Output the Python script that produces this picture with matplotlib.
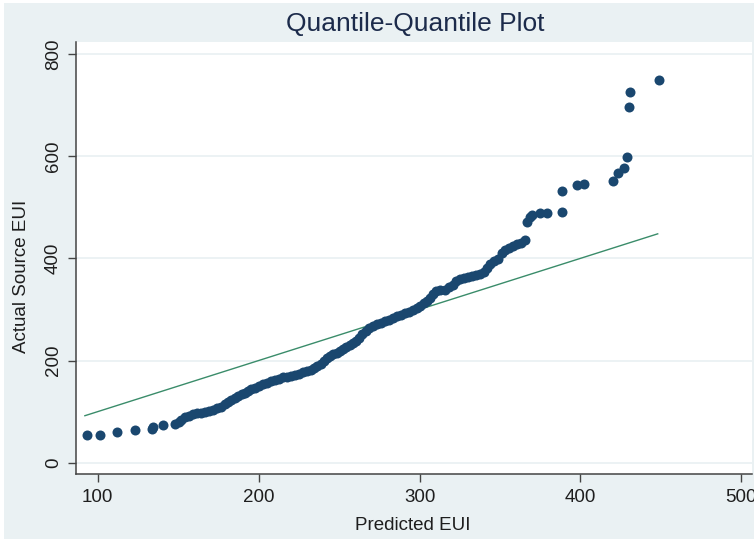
import matplotlib
matplotlib.use("Agg")
import matplotlib.pyplot as plt
from matplotlib.patches import Rectangle

plt.rcParams['font.family'] = ['Liberation Sans', 'DejaVu Sans']

# quantiles (predicted vs actual source EUI)
pred_eui = [93.5, 101.4, 112.2, 123.4, 133.6, 134.2, 140.4, 148.0,
            150.5, 152.0, 154.0, 156.5, 159.0, 161.5, 164.0, 166.5, 169.0, 171.5,
            174.0, 176.5, 179.0, 181.0, 183.0, 185.0, 187.0, 189.5, 191.5, 193.5,
            195.5, 197.5, 200.0, 202.5, 205.0, 207.5, 210.0, 212.5, 215.0, 217.5,
            220.0, 222.5, 225.0, 227.5, 230.0, 232.5, 234.5, 236.5, 238.5, 240.5,
            242.5, 244.5, 246.5, 248.5, 250.5, 252.5, 254.5, 256.5, 258.5, 260.5,
            262.5, 264.5, 266.5, 268.5, 271.0, 273.5, 276.0, 278.5, 281.0, 283.5,
            286.0, 288.5, 291.0, 293.5, 296.0, 298.5, 300.5, 302.5, 304.5, 306.5,
            308.5, 310.5, 313.0, 315.5, 318.0, 320.5, 322.5, 325.0, 327.5, 330.0,
            332.5, 335.0, 337.5, 340.0, 342.0, 344.0, 346.0, 348.5, 351.0, 353.0,
            355.5, 358.0, 360.5, 363.0, 365.5, 366.8, 368.5, 370.0, 374.9, 379.5,
            388.4, 388.4, 397.7, 402.5, 420.1, 423.6, 427.1, 429.2, 430.0, 430.9,
            448.5]
actual_eui = [54, 54.5, 61, 64, 66, 70, 74, 76,
              79, 84, 89, 92, 95, 97, 98, 100, 102, 104,
              107, 110, 114, 118, 122, 127, 130, 134, 137, 141,
              144, 147, 151, 154, 157, 160, 162, 164, 167, 168,
              170, 172, 174, 177, 179, 182, 185, 189, 194, 199,
              204, 208, 212, 215, 219, 222, 226, 230, 235, 239,
              245, 251, 258, 264, 267, 271, 274, 277, 280, 283,
              287, 290, 293, 295, 299, 303, 307, 312, 317, 322,
              330, 337, 338, 339, 343, 348, 355, 359, 361, 363,
              365, 367, 370, 374, 381, 388, 394, 399, 410, 416,
              420, 424, 428, 431, 436, 472, 481, 484, 488, 489.5,
              491.4, 531.9, 543.6, 545.6, 552.1, 567.8, 576.2, 599.1, 696.9, 725,
              749.1]

ref_x = [92, 448]
ref_y = [92, 448]

x_ticks = [100, 200, 300, 400, 500]
y_ticks = [0, 200, 400, 600, 800]

bg = '#EAF1F3'
navy = '#1A476F'
text_col = '#1E1E1E'

fig = plt.figure(figsize=(7.54, 5.39), dpi=100)
fig.patch.set_facecolor('white')
fig.patches.append(Rectangle((4 / 754, 0), 1, 1 - 3 / 539, transform=fig.transFigure,
                             facecolor=bg, edgecolor='none', zorder=-10))

ax = fig.add_axes([75.7 / 754, 65 / 539, (752 - 75.7) / 754, (474 - 42.3) / 539])
ax.set_facecolor('white')

ax.plot(pred_eui, actual_eui, linestyle='none', marker='o', markersize=7.2,
        color=navy, markeredgewidth=0, zorder=3)
ax.plot(ref_x, ref_y, color='#3A8C6A', linewidth=1.0, zorder=2)

ax.set_xlim(86.3, 506.6)
ax.set_ylim(-22.1, 822.9)
ax.set_xticks(x_ticks)
ax.set_yticks(y_ticks)
ax.set_xticklabels([str(v) for v in x_ticks])
ax.set_yticklabels([str(v) for v in y_ticks], rotation=90, va='center')

ax.grid(axis='y', color=bg, linewidth=1.3, zorder=0)
ax.grid(axis='x', visible=False)
ax.set_axisbelow(True)

for side in ['top', 'right']:
    ax.spines[side].set_visible(False)
for side in ['left', 'bottom']:
    ax.spines[side].set_color('#444444')
    ax.spines[side].set_linewidth(1.1)

ax.tick_params(axis='both', direction='out', length=5.8, width=1.0, color='#444444',
               labelsize=13.5, labelcolor=text_col)
ax.tick_params(axis='x', pad=5)
ax.tick_params(axis='y', pad=4)

fig.text(415.5 / 754, 1 - 30.5 / 539, 'Quantile-Quantile Plot', ha='center', va='baseline',
         fontsize=19, color='#1C2B4B')
fig.text(413 / 754, 1 - 526 / 539, 'Predicted EUI', ha='center', va='center',
         fontsize=13.5, color=text_col)
fig.text(21.7 / 754, 1 - 276 / 539, 'Actual Source EUI', ha='center', va='center',
         rotation=90, fontsize=13.5, color=text_col)

fig.savefig('out.png', dpi=100, facecolor=fig.get_facecolor())
